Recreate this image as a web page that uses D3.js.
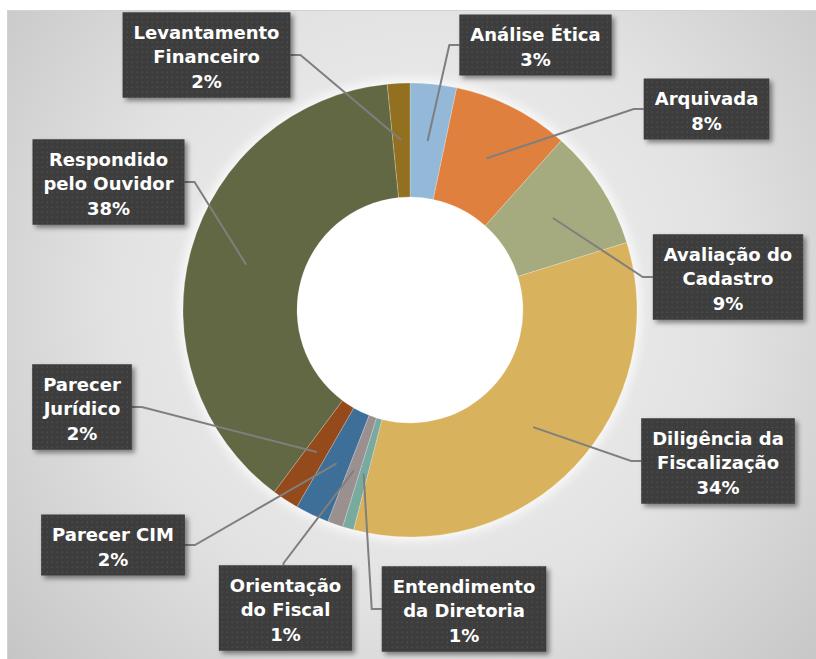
<!DOCTYPE html>
<html>
<head>
<meta charset="utf-8">
<script src="https://cdn.jsdelivr.net/npm/d3@7"></script>
<style>
  html, body { margin: 0; padding: 0; background: #ffffff; }
  svg { display: block; }
</style>
</head>
<body>
<div id="chart"></div>
<script>
// ---- data ----
const categoryLines = [
  ["Análise Ética"],
  ["Arquivada"],
  ["Avaliação do", "Cadastro"],
  ["Diligência da", "Fiscalização"],
  ["Entendimento", "da Diretoria"],
  ["Orientação", "do Fiscal"],
  ["Parecer CIM"],
  ["Parecer", "Jurídico"],
  ["Respondido", "pelo Ouvidor"],
  ["Levantamento", "Financeiro"]
];
const categories = categoryLines.map(l => l.join(" "));
const values = [3.3, 8.3, 8.6, 33.8, 0.8, 1.1, 2.4, 1.9, 38.2, 1.6];
const percentLabels = values.map(v => Math.round(v) + "%");

// ---- styles ----
const colors = ["#93b8d8", "#e0803f", "#a5ab7f", "#d9b25d", "#78aa9f",
                "#9b9090", "#3e6f99", "#944a1b", "#626843", "#937020"];

// ---- label layout (box centre, side the leader leaves from) ----
const labelLayout = [
  {cx: 535.5, cy: 45,  side: "left"},
  {cx: 706.5, cy: 109, side: "left"},
  {cx: 728,   cy: 277, side: "left"},
  {cx: 718,   cy: 461, side: "left"},
  {cx: 464,   cy: 609, side: "left"},
  {cx: 285.5, cy: 608, side: "top"},
  {cx: 113,   cy: 545, side: "right"},
  {cx: 82,    cy: 407, side: "right"},
  {cx: 108.5, cy: 182, side: "right"},
  {cx: 206.5, cy: 55,  side: "right"}
];

const W = 816, H = 659;
const cx = 410, cy = 310, outerR = 227, innerR = 113;

const svg = d3.select("#chart").append("svg")
  .attr("width", W).attr("height", H);

const defs = svg.append("defs");
const bg = defs.append("radialGradient").attr("id", "bgGrad")
  .attr("gradientUnits", "userSpaceOnUse")
  .attr("cx", 420).attr("cy", 300).attr("r", 560);
bg.append("stop").attr("offset", "0%").attr("stop-color", "#f4f4f4");
bg.append("stop").attr("offset", "55%").attr("stop-color", "#e2e2e2");
bg.append("stop").attr("offset", "100%").attr("stop-color", "#c4c4c4");

const glow = defs.append("filter").attr("id", "glow")
  .attr("x", "-30%").attr("y", "-30%").attr("width", "160%").attr("height", "160%");
glow.append("feGaussianBlur").attr("stdDeviation", 6);

const shadow = defs.append("filter").attr("id", "boxShadow")
  .attr("x", "-20%").attr("y", "-20%").attr("width", "150%").attr("height", "150%");
shadow.append("feDropShadow").attr("dx", 3).attr("dy", 3)
  .attr("stdDeviation", 2.5).attr("flood-color", "#000").attr("flood-opacity", 0.45);

const pat = defs.append("pattern").attr("id", "dots")
  .attr("patternUnits", "userSpaceOnUse").attr("width", 5).attr("height", 5);
pat.append("rect").attr("width", 5).attr("height", 5).attr("fill", "#3c3c3c");
pat.append("rect").attr("x", 1.5).attr("y", 1.5).attr("width", 1.5).attr("height", 1.5).attr("fill", "#4e4e4e");

// background panel
svg.append("rect").attr("x", 7.5).attr("y", 10.5)
  .attr("width", W).attr("height", H)
  .attr("fill", "url(#bgGrad)").attr("stroke", "#d2d2d2").attr("stroke-width", 1);

// glow behind ring
svg.append("circle").attr("cx", cx).attr("cy", cy).attr("r", outerR + 3)
  .attr("fill", "#ffffff").attr("opacity", 0.9).attr("filter", "url(#glow)");
svg.append("circle").attr("cx", cx).attr("cy", cy).attr("r", innerR + 2)
  .attr("fill", "#ffffff");

const pie = d3.pie().sort(null).value(d => d);
const arcs = pie(values);
const arc = d3.arc().innerRadius(innerR).outerRadius(outerR);
const g = svg.append("g").attr("transform", `translate(${cx},${cy})`);

g.selectAll("path.slice").data(arcs).enter().append("path")
  .attr("class", "slice")
  .attr("d", arc)
  .attr("fill", (d, i) => colors[i])
  .attr("stroke", "rgba(255,255,255,0.35)")
  .attr("stroke-width", 0.6);

// labels
const fontFamily = "'DejaVu Sans', sans-serif";
const lineGap = 24.5;
const labelsG = svg.append("g");

const measure = svg.append("text").attr("font-family", fontFamily)
  .attr("font-weight", "bold").attr("font-size", 18).attr("visibility", "hidden");

const boxes = arcs.map((a, i) => {
  const lines = categoryLines[i].concat([percentLabels[i]]);
  let maxW = 0;
  lines.forEach(t => { measure.text(t); maxW = Math.max(maxW, measure.node().getComputedTextLength()); });
  const w = maxW + 22;
  const h = lines.length * lineGap + 12;
  const L = labelLayout[i];
  return {x: L.cx - w / 2, y: L.cy - h / 2, w, h, lines, side: L.side};
});
measure.remove();

// leader lines
arcs.forEach((a, i) => {
  const b = boxes[i];
  const [px, py] = arc.centroid(a);
  const ex = cx + px, ey = cy + py;
  let sx, sy, mx, my;
  if (b.side === "left") { sx = b.x; sy = b.y + b.h / 2; mx = sx - 10; my = sy; }
  else if (b.side === "right") { sx = b.x + b.w; sy = b.y + b.h / 2; mx = sx + 10; my = sy; }
  else { sx = b.x + b.w / 2 - 2; sy = b.y; mx = sx; my = sy - 2; }
  labelsG.append("path")
    .attr("d", d3.line()([[sx, sy], [mx, my], [ex, ey]]))
    .attr("fill", "none").attr("stroke", "#7f7f7f").attr("stroke-width", 2);
});

boxes.forEach((b, i) => {
  const bg2 = labelsG.append("g");
  bg2.append("rect").attr("x", b.x).attr("y", b.y).attr("width", b.w).attr("height", b.h)
    .attr("fill", "url(#dots)").attr("filter", "url(#boxShadow)");
  b.lines.forEach((t, k) => {
    bg2.append("text")
      .attr("x", b.x + b.w / 2)
      .attr("y", b.y + 26.5 + k * lineGap)
      .attr("text-anchor", "middle")
      .attr("font-family", fontFamily)
      .attr("font-weight", "bold")
      .attr("font-size", 18)
      .attr("fill", "#ffffff")
      .text(t);
  });
});
</script>
</body>
</html>
